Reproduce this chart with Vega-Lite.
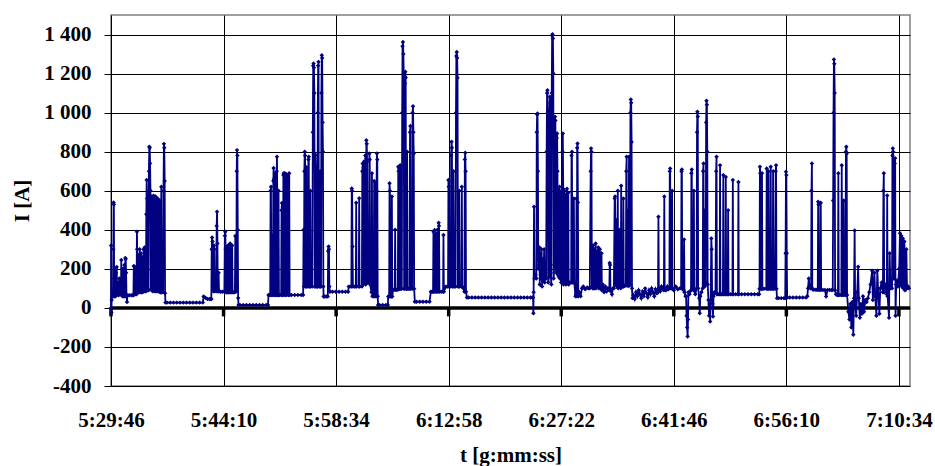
{
"$schema":"https://vega.github.io/schema/vega-lite/v6.json",
"width":799,"height":371,
"autosize":{"type":"none"},
"padding":{"left":111,"top":15,"right":25,"bottom":80},
"background":"white",
"config":{"view":{"stroke":"#808080","strokeWidth":1.5},
"axis":{"labelFont":"Liberation Serif","labelFontSize":21,"labelFontWeight":"bold","labelColor":"#000000","titleFont":"Liberation Serif","titleFontSize":21,"titleFontWeight":"bold","titleColor":"#000000"}},
"datasets":{
"tickpos":[{"s":0,"i":0},{"s":864,"i":0},{"s":1728,"i":0},{"s":2592,"i":0},{"s":3456,"i":0},{"s":4320,"i":0},{"s":5184,"i":0},{"s":6048,"i":0}],
"zeroline":[{"s":0,"i":0},{"s":6133,"i":0}],
"current":[
{"s":0,"i":0},{"s":1,"i":320},{"s":3,"i":-25},{"s":5,"i":40},{"s":8,"i":60},{"s":12,"i":60},{"s":16,"i":60},{"s":18,"i":300},{"s":20,"i":540},{"s":22,"i":530},{"s":24,"i":150},{"s":26,"i":60},{"s":30,"i":60},{"s":32,"i":200},{"s":35,"i":60},{"s":38,"i":180},{"s":41,"i":90},{"s":44,"i":210},{"s":47,"i":70},{"s":52,"i":70},{"s":55,"i":130},{"s":58,"i":65},{"s":64,"i":150},{"s":67,"i":70},{"s":72,"i":70},{"s":76,"i":70},{"s":79,"i":245},{"s":82,"i":70},{"s":88,"i":60},{"s":91,"i":200},{"s":94,"i":60},{"s":100,"i":60},{"s":103,"i":220},{"s":106,"i":60},{"s":110,"i":255},{"s":113,"i":250},{"s":116,"i":180},{"s":119,"i":60},{"s":123,"i":30},{"s":126,"i":65},{"s":140,"i":65},{"s":155,"i":65},
{"s":168,"i":65},{"s":172,"i":65},{"s":175,"i":215},{"s":178,"i":70},{"s":183,"i":210},{"s":186,"i":70},{"s":196,"i":70},{"s":199,"i":390},{"s":201,"i":300},{"s":204,"i":80},{"s":207,"i":80},{"s":210,"i":270},{"s":213,"i":80},{"s":220,"i":300},{"s":223,"i":80},{"s":230,"i":280},{"s":233,"i":80},{"s":240,"i":260},{"s":243,"i":80},{"s":250,"i":300},{"s":253,"i":85},{"s":258,"i":310},{"s":261,"i":85},{"s":268,"i":85},{"s":271,"i":480},{"s":274,"i":655},{"s":277,"i":560},{"s":280,"i":90},{"s":288,"i":90},{"s":291,"i":700},{"s":294,"i":825},{"s":297,"i":820},{"s":300,"i":740},{"s":303,"i":600},{"s":306,"i":95},{"s":310,"i":570},{"s":313,"i":90},{"s":318,"i":565},{"s":321,"i":85},{"s":326,"i":575},{"s":329,"i":90},{"s":334,"i":560},{"s":337,"i":85},{"s":342,"i":570},{"s":345,"i":85},{"s":350,"i":555},{"s":353,"i":85},{"s":358,"i":560},{"s":361,"i":85},{"s":366,"i":540},{"s":369,"i":85},{"s":374,"i":550},{"s":377,"i":80},{"s":383,"i":80},{"s":386,"i":620},{"s":389,"i":80},{"s":400,"i":80},{"s":403,"i":600},{"s":406,"i":840},{"s":409,"i":820},{"s":412,"i":650},{"s":415,"i":75},{"s":418,"i":27},
{"s":430,"i":27},{"s":455,"i":27},{"s":480,"i":27},{"s":505,"i":27},{"s":530,"i":27},{"s":555,"i":27},{"s":580,"i":27},{"s":605,"i":27},{"s":630,"i":27},{"s":655,"i":27},{"s":680,"i":27},{"s":705,"i":27},{"s":711,"i":58},{"s":725,"i":52},{"s":740,"i":45},{"s":755,"i":45},{"s":767,"i":46},
{"s":770,"i":46},{"s":773,"i":300},{"s":776,"i":360},{"s":779,"i":340},{"s":782,"i":260},{"s":785,"i":85},{"s":790,"i":320},{"s":793,"i":300},{"s":796,"i":85},{"s":808,"i":85},{"s":811,"i":420},{"s":814,"i":493},{"s":817,"i":330},{"s":820,"i":85},{"s":823,"i":85},{"s":826,"i":180},{"s":829,"i":85},{"s":840,"i":83},{"s":855,"i":83},{"s":870,"i":83},{"s":874,"i":370},{"s":877,"i":390},{"s":880,"i":300},{"s":883,"i":80},{"s":888,"i":80},{"s":891,"i":310},{"s":894,"i":80},{"s":898,"i":320},{"s":901,"i":80},{"s":906,"i":300},{"s":909,"i":80},{"s":914,"i":330},{"s":917,"i":80},{"s":922,"i":300},{"s":925,"i":80},{"s":930,"i":320},{"s":933,"i":80},{"s":940,"i":80},{"s":951,"i":80},{"s":954,"i":368},{"s":957,"i":85},{"s":962,"i":85},{"s":965,"i":700},{"s":967,"i":808},{"s":970,"i":780},{"s":973,"i":400},{"s":976,"i":51},{"s":979,"i":15},
{"s":990,"i":15},{"s":1015,"i":15},{"s":1040,"i":15},{"s":1065,"i":15},{"s":1090,"i":15},{"s":1115,"i":15},{"s":1140,"i":15},{"s":1165,"i":15},{"s":1190,"i":15},{"s":1205,"i":15},{"s":1209,"i":66},
{"s":1215,"i":66},{"s":1222,"i":66},{"s":1225,"i":600},{"s":1228,"i":620},{"s":1231,"i":66},{"s":1235,"i":373},{"s":1238,"i":66},{"s":1243,"i":66},{"s":1246,"i":650},{"s":1248,"i":716},{"s":1251,"i":660},{"s":1254,"i":66},{"s":1258,"i":66},{"s":1261,"i":690},{"s":1264,"i":66},{"s":1269,"i":66},{"s":1272,"i":700},{"s":1274,"i":774},{"s":1277,"i":500},{"s":1280,"i":66},{"s":1283,"i":66},{"s":1286,"i":600},{"s":1289,"i":66},{"s":1295,"i":66},{"s":1306,"i":66},{"s":1309,"i":500},{"s":1312,"i":537},{"s":1315,"i":66},{"s":1320,"i":66},{"s":1323,"i":680},{"s":1326,"i":690},{"s":1329,"i":66},{"s":1334,"i":690},{"s":1337,"i":680},{"s":1340,"i":66},{"s":1346,"i":685},{"s":1349,"i":66},{"s":1356,"i":680},{"s":1359,"i":660},{"s":1362,"i":66},{"s":1368,"i":690},{"s":1371,"i":66},{"s":1385,"i":66},{"s":1410,"i":66},{"s":1435,"i":66},{"s":1460,"i":66},
{"s":1475,"i":66},{"s":1478,"i":400},{"s":1481,"i":110},{"s":1484,"i":700},{"s":1487,"i":800},{"s":1490,"i":780},{"s":1493,"i":110},{"s":1497,"i":110},{"s":1500,"i":720},{"s":1503,"i":110},{"s":1512,"i":110},{"s":1515,"i":760},{"s":1518,"i":774},{"s":1521,"i":110},{"s":1527,"i":110},{"s":1530,"i":600},{"s":1533,"i":110},{"s":1545,"i":110},{"s":1549,"i":900},{"s":1552,"i":1240},{"s":1555,"i":1252},{"s":1558,"i":1230},{"s":1561,"i":1100},{"s":1564,"i":110},{"s":1567,"i":110},{"s":1570,"i":783},{"s":1573,"i":700},{"s":1576,"i":110},{"s":1579,"i":600},{"s":1582,"i":110},{"s":1584,"i":110},{"s":1587,"i":1000},{"s":1590,"i":1240},{"s":1593,"i":1260},{"s":1596,"i":110},{"s":1603,"i":110},{"s":1606,"i":700},{"s":1609,"i":110},{"s":1612,"i":110},{"s":1615,"i":1100},{"s":1618,"i":1294},{"s":1621,"i":1280},{"s":1624,"i":950},{"s":1627,"i":800},{"s":1630,"i":110},{"s":1632,"i":58},{"s":1640,"i":58},{"s":1652,"i":58},{"s":1664,"i":58},{"s":1667,"i":290},{"s":1670,"i":314},{"s":1673,"i":300},{"s":1676,"i":110},{"s":1680,"i":83},{"s":1700,"i":83},{"s":1725,"i":83},{"s":1750,"i":83},{"s":1775,"i":83},{"s":1800,"i":83},{"s":1820,"i":83},
{"s":1825,"i":109},{"s":1835,"i":109},{"s":1845,"i":109},{"s":1848,"i":612},{"s":1851,"i":600},{"s":1854,"i":314},{"s":1857,"i":109},{"s":1868,"i":109},{"s":1879,"i":109},{"s":1882,"i":539},{"s":1885,"i":109},{"s":1902,"i":109},{"s":1905,"i":561},{"s":1908,"i":109},{"s":1926,"i":109},{"s":1929,"i":700},{"s":1932,"i":740},{"s":1935,"i":120},{"s":1940,"i":720},{"s":1943,"i":750},{"s":1946,"i":130},{"s":1952,"i":780},{"s":1955,"i":120},{"s":1960,"i":859},{"s":1963,"i":840},{"s":1966,"i":750},{"s":1969,"i":130},{"s":1980,"i":130},{"s":1983,"i":791},{"s":1986,"i":760},{"s":1989,"i":120},{"s":2000,"i":80},{"s":2003,"i":689},{"s":2006,"i":60},{"s":2016,"i":60},{"s":2020,"i":650},{"s":2023,"i":60},{"s":2030,"i":60},{"s":2033,"i":640},{"s":2036,"i":60},{"s":2038,"i":600},{"s":2041,"i":791},{"s":2044,"i":760},{"s":2047,"i":60},{"s":2050,"i":15},{"s":2060,"i":15},{"s":2085,"i":15},{"s":2110,"i":15},{"s":2125,"i":15},
{"s":2128,"i":58},{"s":2135,"i":58},{"s":2138,"i":638},{"s":2141,"i":600},{"s":2144,"i":58},{"s":2153,"i":58},{"s":2156,"i":570},{"s":2159,"i":58},{"s":2165,"i":93},{"s":2178,"i":93},{"s":2181,"i":400},{"s":2184,"i":93},{"s":2192,"i":93},{"s":2202,"i":93},{"s":2205,"i":723},{"s":2208,"i":700},{"s":2211,"i":98},{"s":2217,"i":98},{"s":2220,"i":730},{"s":2223,"i":98},{"s":2232,"i":98},{"s":2235,"i":1000},{"s":2238,"i":1340},{"s":2241,"i":1362},{"s":2244,"i":1300},{"s":2247,"i":1200},{"s":2250,"i":98},{"s":2253,"i":98},{"s":2256,"i":1150},{"s":2259,"i":1209},{"s":2262,"i":1180},{"s":2265,"i":98},{"s":2270,"i":98},{"s":2273,"i":800},{"s":2276,"i":98},{"s":2285,"i":98},{"s":2292,"i":98},{"s":2295,"i":900},{"s":2298,"i":931},{"s":2301,"i":98},{"s":2312,"i":98},{"s":2315,"i":1000},{"s":2318,"i":1033},{"s":2321,"i":900},{"s":2324,"i":791},{"s":2327,"i":98},{"s":2332,"i":32},{"s":2345,"i":32},{"s":2370,"i":32},{"s":2395,"i":32},{"s":2420,"i":32},{"s":2445,"i":32},
{"s":2455,"i":83},{"s":2465,"i":83},{"s":2472,"i":83},{"s":2475,"i":390},{"s":2478,"i":83},{"s":2484,"i":399},{"s":2487,"i":83},{"s":2495,"i":380},{"s":2498,"i":83},{"s":2506,"i":400},{"s":2509,"i":83},{"s":2515,"i":436},{"s":2518,"i":420},{"s":2521,"i":83},{"s":2535,"i":83},{"s":2549,"i":83},{"s":2552,"i":373},{"s":2555,"i":83},{"s":2570,"i":109},{"s":2580,"i":109},{"s":2587,"i":109},{"s":2590,"i":655},{"s":2593,"i":620},{"s":2596,"i":109},{"s":2608,"i":109},{"s":2611,"i":780},{"s":2614,"i":851},{"s":2617,"i":820},{"s":2620,"i":109},{"s":2626,"i":109},{"s":2629,"i":700},{"s":2632,"i":381},{"s":2635,"i":109},{"s":2645,"i":109},{"s":2648,"i":1000},{"s":2651,"i":1290},{"s":2654,"i":1311},{"s":2657,"i":1280},{"s":2660,"i":1178},{"s":2663,"i":109},{"s":2670,"i":109},{"s":2673,"i":600},{"s":2676,"i":109},{"s":2690,"i":109},{"s":2693,"i":620},{"s":2696,"i":109},{"s":2705,"i":100},{"s":2713,"i":83},{"s":2716,"i":760},{"s":2719,"i":794},{"s":2722,"i":700},{"s":2725,"i":83},{"s":2732,"i":53},
{"s":2745,"i":53},{"s":2770,"i":53},{"s":2795,"i":53},{"s":2820,"i":53},{"s":2845,"i":53},{"s":2870,"i":53},{"s":2895,"i":53},{"s":2920,"i":53},{"s":2945,"i":53},{"s":2970,"i":53},{"s":2995,"i":53},{"s":3020,"i":53},{"s":3045,"i":53},{"s":3070,"i":53},{"s":3095,"i":53},{"s":3120,"i":53},{"s":3145,"i":53},{"s":3170,"i":53},{"s":3195,"i":53},{"s":3220,"i":53},{"s":3235,"i":53},
{"s":3240,"i":53},{"s":3242,"i":-27},{"s":3244,"i":80},{"s":3247,"i":518},{"s":3250,"i":150},{"s":3258,"i":170},{"s":3265,"i":150},{"s":3268,"i":900},{"s":3271,"i":990},{"s":3274,"i":996},{"s":3277,"i":700},{"s":3280,"i":200},{"s":3285,"i":250},{"s":3288,"i":310},{"s":3291,"i":120},{"s":3296,"i":280},{"s":3300,"i":150},{"s":3305,"i":300},{"s":3309,"i":110},{"s":3314,"i":250},{"s":3318,"i":140},{"s":3325,"i":300},{"s":3329,"i":130},{"s":3335,"i":180},{"s":3340,"i":150},{"s":3344,"i":800},{"s":3347,"i":1100},{"s":3350,"i":1115},{"s":3353,"i":1000},{"s":3356,"i":130},{"s":3363,"i":160},{"s":3366,"i":1000},{"s":3369,"i":1081},{"s":3372,"i":1050},{"s":3375,"i":180},{"s":3380,"i":120},{"s":3383,"i":1100},{"s":3386,"i":1395},{"s":3389,"i":1401},{"s":3392,"i":1380},{"s":3395,"i":1200},{"s":3398,"i":150},{"s":3402,"i":220},{"s":3405,"i":900},{"s":3408,"i":979},{"s":3411,"i":960},{"s":3414,"i":200},{"s":3418,"i":180},{"s":3421,"i":870},{"s":3424,"i":893},{"s":3427,"i":700},{"s":3430,"i":170},{"s":3434,"i":600},{"s":3437,"i":160},{"s":3440,"i":170},{"s":3443,"i":620},{"s":3446,"i":150},{"s":3452,"i":590},{"s":3455,"i":130},{"s":3460,"i":600},{"s":3463,"i":140},{"s":3466,"i":800},{"s":3468,"i":893},{"s":3471,"i":610},{"s":3474,"i":120},{"s":3480,"i":600},{"s":3483,"i":130},{"s":3490,"i":580},{"s":3493,"i":120},{"s":3500,"i":610},{"s":3503,"i":130},{"s":3510,"i":590},{"s":3513,"i":120},{"s":3520,"i":130},{"s":3532,"i":130},{"s":3535,"i":780},{"s":3538,"i":800},{"s":3541,"i":130},{"s":3550,"i":130},{"s":3553,"i":560},{"s":3556,"i":130},{"s":3565,"i":60},{"s":3570,"i":70},{"s":3573,"i":560},{"s":3576,"i":60},{"s":3578,"i":820},{"s":3581,"i":842},{"s":3584,"i":540},{"s":3587,"i":60},{"s":3595,"i":80},{"s":3605,"i":60},{"s":3615,"i":100},{"s":3625,"i":110},{"s":3640,"i":95},{"s":3655,"i":105},{"s":3665,"i":100},
{"s":3675,"i":100},{"s":3682,"i":700},{"s":3685,"i":817},{"s":3688,"i":800},{"s":3691,"i":110},{"s":3697,"i":100},{"s":3700,"i":320},{"s":3703,"i":100},{"s":3710,"i":300},{"s":3713,"i":100},{"s":3720,"i":330},{"s":3723,"i":100},{"s":3730,"i":290},{"s":3733,"i":110},{"s":3740,"i":310},{"s":3743,"i":100},{"s":3752,"i":300},{"s":3755,"i":100},{"s":3765,"i":280},{"s":3768,"i":90},{"s":3775,"i":120},{"s":3785,"i":80},{"s":3795,"i":110},{"s":3805,"i":85},{"s":3815,"i":100},{"s":3825,"i":90},{"s":3828,"i":230},{"s":3831,"i":220},{"s":3834,"i":90},{"s":3845,"i":70},{"s":3852,"i":100},{"s":3860,"i":100},{"s":3866,"i":560},{"s":3869,"i":570},{"s":3872,"i":120},{"s":3880,"i":450},{"s":3883,"i":110},{"s":3890,"i":600},{"s":3893,"i":100},{"s":3900,"i":120},{"s":3904,"i":400},{"s":3907,"i":110},{"s":3913,"i":100},{"s":3916,"i":626},{"s":3919,"i":110},{"s":3930,"i":110},{"s":3933,"i":560},{"s":3936,"i":110},{"s":3945,"i":115},{"s":3952,"i":115},{"s":3955,"i":700},{"s":3958,"i":774},{"s":3961,"i":115},{"s":3967,"i":115},{"s":3970,"i":500},{"s":3973,"i":115},{"s":3976,"i":774},{"s":3979,"i":115},{"s":3984,"i":120},{"s":3987,"i":1000},{"s":3990,"i":1067},{"s":3993,"i":1050},{"s":3996,"i":850},{"s":3999,"i":100},{"s":4003,"i":50},
{"s":4010,"i":65},{"s":4020,"i":45},{"s":4030,"i":80},{"s":4040,"i":60},{"s":4050,"i":90},{"s":4060,"i":70},{"s":4070,"i":50},{"s":4080,"i":85},{"s":4090,"i":60},{"s":4100,"i":100},{"s":4110,"i":75},{"s":4120,"i":55},{"s":4130,"i":90},{"s":4140,"i":70},{"s":4150,"i":100},{"s":4160,"i":80},{"s":4170,"i":60},{"s":4180,"i":95},{"s":4190,"i":75},
{"s":4199,"i":80},{"s":4202,"i":467},{"s":4205,"i":100},{"s":4215,"i":85},{"s":4225,"i":110},{"s":4235,"i":95},{"s":4244,"i":90},{"s":4247,"i":570},{"s":4250,"i":100},{"s":4260,"i":90},{"s":4270,"i":110},{"s":4278,"i":95},{"s":4286,"i":100},{"s":4289,"i":700},{"s":4292,"i":714},{"s":4295,"i":100},{"s":4304,"i":100},{"s":4307,"i":600},{"s":4310,"i":100},{"s":4320,"i":90},{"s":4335,"i":110},{"s":4350,"i":95},{"s":4365,"i":100},{"s":4376,"i":100},{"s":4379,"i":700},{"s":4382,"i":709},{"s":4385,"i":100},{"s":4396,"i":90},{"s":4399,"i":350},{"s":4402,"i":80},{"s":4410,"i":60},{"s":4414,"i":60},{"s":4418,"i":-40},{"s":4422,"i":-100},{"s":4426,"i":-147},{"s":4429,"i":-60},{"s":4432,"i":80},{"s":4440,"i":70},{"s":4452,"i":90},{"s":4455,"i":690},{"s":4458,"i":709},{"s":4461,"i":100},{"s":4471,"i":90},{"s":4474,"i":600},{"s":4477,"i":90},{"s":4485,"i":70},{"s":4495,"i":100},{"s":4498,"i":900},{"s":4501,"i":1004},{"s":4504,"i":980},{"s":4507,"i":100},{"s":4515,"i":50},{"s":4519,"i":-27},{"s":4523,"i":60},{"s":4532,"i":80},{"s":4542,"i":100},{"s":4545,"i":700},{"s":4548,"i":740},{"s":4551,"i":120},{"s":4557,"i":110},{"s":4560,"i":500},{"s":4563,"i":120},{"s":4565,"i":130},{"s":4568,"i":950},{"s":4571,"i":1061},{"s":4574,"i":1040},{"s":4577,"i":800},{"s":4580,"i":120},{"s":4586,"i":40},{"s":4591,"i":-40},{"s":4595,"i":20},{"s":4599,"i":-70},{"s":4603,"i":40},{"s":4608,"i":356},{"s":4611,"i":300},{"s":4614,"i":70},{"s":4618,"i":20},{"s":4621,"i":-44},{"s":4625,"i":60},{"s":4632,"i":80},{"s":4640,"i":80},{"s":4645,"i":700},{"s":4648,"i":774},{"s":4651,"i":70},{"s":4660,"i":70},{"s":4672,"i":70},{"s":4675,"i":730},{"s":4678,"i":70},{"s":4688,"i":70},{"s":4697,"i":70},{"s":4700,"i":680},{"s":4703,"i":70},{"s":4716,"i":70},{"s":4719,"i":670},{"s":4722,"i":70},{"s":4734,"i":70},{"s":4737,"i":500},{"s":4740,"i":70},{"s":4755,"i":70},{"s":4770,"i":70},{"s":4773,"i":655},{"s":4776,"i":70},{"s":4795,"i":70},{"s":4813,"i":70},{"s":4816,"i":645},{"s":4819,"i":70},{"s":4840,"i":70},{"s":4865,"i":70},{"s":4890,"i":70},{"s":4915,"i":70},{"s":4940,"i":70},{"s":4965,"i":70},{"s":4975,"i":70},{"s":4978,"i":98},{"s":4981,"i":723},{"s":4984,"i":690},{"s":4987,"i":98},{"s":4994,"i":98},{"s":4997,"i":690},{"s":5000,"i":98},{"s":5012,"i":98},{"s":5030,"i":98},{"s":5033,"i":714},{"s":5036,"i":98},{"s":5044,"i":98},{"s":5047,"i":700},{"s":5050,"i":98},{"s":5061,"i":98},{"s":5064,"i":723},{"s":5067,"i":98},{"s":5079,"i":98},{"s":5082,"i":700},{"s":5085,"i":98},{"s":5097,"i":98},{"s":5102,"i":700},{"s":5105,"i":730},{"s":5108,"i":98},{"s":5112,"i":50},{"s":5125,"i":50},{"s":5145,"i":50},{"s":5165,"i":50},{"s":5175,"i":50},{"s":5178,"i":280},{"s":5181,"i":697},{"s":5184,"i":680},{"s":5187,"i":280},{"s":5190,"i":53},{"s":5210,"i":53},{"s":5235,"i":53},{"s":5260,"i":53},{"s":5285,"i":53},{"s":5310,"i":53},{"s":5335,"i":53},
{"s":5345,"i":60},{"s":5350,"i":100},{"s":5356,"i":150},{"s":5362,"i":110},{"s":5368,"i":100},{"s":5374,"i":100},{"s":5377,"i":600},{"s":5380,"i":740},{"s":5383,"i":100},{"s":5390,"i":93},{"s":5405,"i":93},{"s":5418,"i":93},{"s":5425,"i":93},{"s":5428,"i":544},{"s":5431,"i":530},{"s":5434,"i":93},{"s":5440,"i":93},{"s":5445,"i":93},{"s":5448,"i":539},{"s":5451,"i":93},{"s":5465,"i":92},{"s":5480,"i":92},{"s":5489,"i":58},{"s":5500,"i":92},{"s":5515,"i":92},{"s":5530,"i":92},{"s":5540,"i":92},{"s":5543,"i":550},{"s":5546,"i":1000},{"s":5549,"i":1272},{"s":5552,"i":1250},{"s":5555,"i":1100},{"s":5558,"i":90},{"s":5565,"i":70},{"s":5572,"i":66},{"s":5580,"i":66},{"s":5583,"i":690},{"s":5586,"i":66},{"s":5595,"i":66},{"s":5606,"i":66},{"s":5609,"i":730},{"s":5612,"i":66},{"s":5620,"i":66},{"s":5624,"i":550},{"s":5627,"i":66},{"s":5638,"i":66},{"s":5641,"i":800},{"s":5644,"i":825},{"s":5647,"i":790},{"s":5650,"i":66},{"s":5660,"i":-20},{"s":5668,"i":-60},{"s":5675,"i":20},{"s":5683,"i":-100},{"s":5690,"i":30},{"s":5698,"i":-138},{"s":5703,"i":50},{"s":5708,"i":396},{"s":5712,"i":30},{"s":5720,"i":-40},{"s":5728,"i":80},{"s":5735,"i":211},{"s":5740,"i":50},{"s":5748,"i":-50},{"s":5756,"i":20},{"s":5764,"i":-30},{"s":5772,"i":60},{"s":5780,"i":-20},{"s":5790,"i":40},{"s":5800,"i":30},{"s":5810,"i":50},{"s":5820,"i":80},{"s":5830,"i":120},{"s":5842,"i":190},{"s":5848,"i":40},{"s":5860,"i":180},{"s":5866,"i":60},{"s":5875,"i":-40},{"s":5882,"i":190},{"s":5890,"i":70},{"s":5898,"i":-30},{"s":5905,"i":100},{"s":5915,"i":130},{"s":5925,"i":80},{"s":5929,"i":600},{"s":5932,"i":690},{"s":5935,"i":80},{"s":5945,"i":120},{"s":5955,"i":70},{"s":5958,"i":576},{"s":5961,"i":60},{"s":5972,"i":-50},{"s":5977,"i":280},{"s":5983,"i":100},{"s":5990,"i":120},{"s":5995,"i":100},{"s":5998,"i":780},{"s":6001,"i":817},{"s":6004,"i":800},{"s":6007,"i":150},{"s":6013,"i":150},{"s":6016,"i":740},{"s":6019,"i":767},{"s":6022,"i":-40},{"s":6027,"i":120},{"s":6035,"i":140},{"s":6040,"i":110},{"s":6050,"i":200},{"s":6056,"i":382},{"s":6060,"i":120},{"s":6066,"i":370},{"s":6070,"i":110},{"s":6078,"i":355},{"s":6082,"i":100},{"s":6090,"i":340},{"s":6094,"i":90},{"s":6100,"i":120},{"s":6105,"i":300},{"s":6110,"i":100},{"s":6118,"i":110},{"s":6125,"i":100}
]},
"encoding":{
 "x":{"field":"s","type":"quantitative","scale":{"domain":[0,6133],"nice":false,"zero":false},
  "axis":{"values":[0,864,1728,2592,3456,4320,5184,6048],"labelExpr":"utcFormat((datum.value + 19786) * 1000, '%-H:%M:%S')","grid":true,"gridColor":"#000000","gridWidth":1,"ticks":false,"tickSize":0,"domain":false,"labelFlush":false,"labelOverlap":false,"labelBaseline":"alphabetic","labelPadding":40,"title":"t [g:mm:ss]","titleY":75,"titleBaseline":"alphabetic"}},
 "y":{"field":"i","type":"quantitative","scale":{"domain":[-400,1500],"nice":false,"zero":false},
  "axis":{"values":[-400,-200,0,200,400,600,800,1000,1200,1400],"labelExpr":"abs(datum.value) >= 1000 ? substring(toString(datum.value),0,1) + ' ' + substring(toString(datum.value),1) : toString(datum.value)","grid":true,"gridColor":"#000000","gridWidth":1,"tickSize":7,"tickColor":"#000000","domain":false,"labelPadding":13,"labelOverlap":false,"title":"I [A]","titleX":-83,"titleY":185.5,"titleAngle":270,"titleBaseline":"alphabetic","titleAlign":"center"}}
},
"layer":[
{"data":{"name":"zeroline"},
 "mark":{"type":"line","color":"#000000","strokeWidth":3.5}},
{"data":{"name":"tickpos"},
 "mark":{"type":"tick","orient":"vertical","color":"#000000","size":9,"thickness":3.5,"opacity":1,"yOffset":4}},
{"data":{"name":"current"},
 "mark":{"type":"line","color":"#000080","strokeWidth":1.8,"point":{"filled":true,"shape":"diamond","size":20,"color":"#000080"}}}
]
}
